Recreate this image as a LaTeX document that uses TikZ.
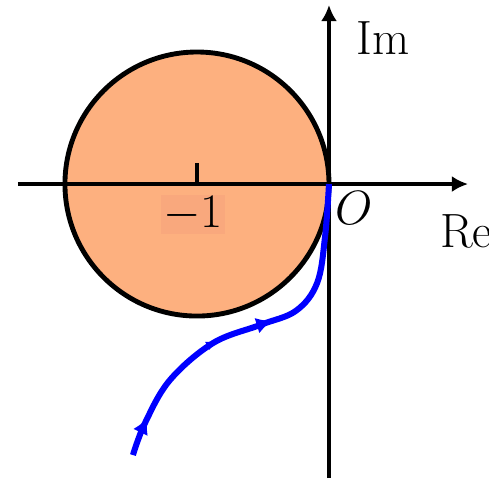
\documentclass[tikz,border=0pt]{standalone}
\usetikzlibrary{arrows.meta,decorations.markings}

\definecolor{diskorange}{RGB}{253,176,127}
\definecolor{labelorange}{RGB}{249,168,125}

\tikzset{
  axis/.style={line width=2.1pt,-{Latex[length=7pt,width=7pt]}},
  nyquist/.style={blue,line width=2.6pt,
    postaction={decorate,decoration={markings,
      mark=at position 0.11 with {\arrow{Latex[length=7pt,width=7pt]}},
      mark=at position 0.40 with {\arrow{Latex[length=5pt,width=4pt]}},
      mark=at position 0.56 with {\arrow{Latex[length=7pt,width=7pt]}}}}},
}

\begin{document}
\begin{tikzpicture}[x=2cm,y=2cm]
  \useasboundingbox (-2.492,-2.258) rectangle (1.212,1.394);

  % Disk of radius 1 centred at -1
  \filldraw[fill=diskorange,draw=black,line width=2.1pt] (-1,0) circle (1);

  % Axes
  \draw[axis] (-2.356,0) -- (1.053,0);
  \draw[axis] (0,-2.227) -- (0,1.356);
  \draw[line width=2.1pt] (-1,0) -- (-1,0.16);

  % Labels
  \node[font=\huge] (im) at (0.41,1.105) {$\mathrm{Im}$};
  \node[font=\huge] (re) at (1.04,-0.36) {$\mathrm{Re}$};
  \node[font=\huge] (o) at (0.19,-0.18) {$O$};
  \node[font=\huge,fill=labelorange,inner sep=1pt] (m1) at (-1.03,-0.23) {$-1$};

  % Nyquist curve
  \draw[nyquist] plot[smooth,tension=0.6] coordinates {
    (-1.485,-2.053) (-1.394,-1.811) (-1.205,-1.485) (-0.879,-1.205)
    (-0.523,-1.068) (-0.25,-0.96) (-0.09,-0.75)
    (-0.03,-0.40) (0,0)};
\end{tikzpicture}
\end{document}
